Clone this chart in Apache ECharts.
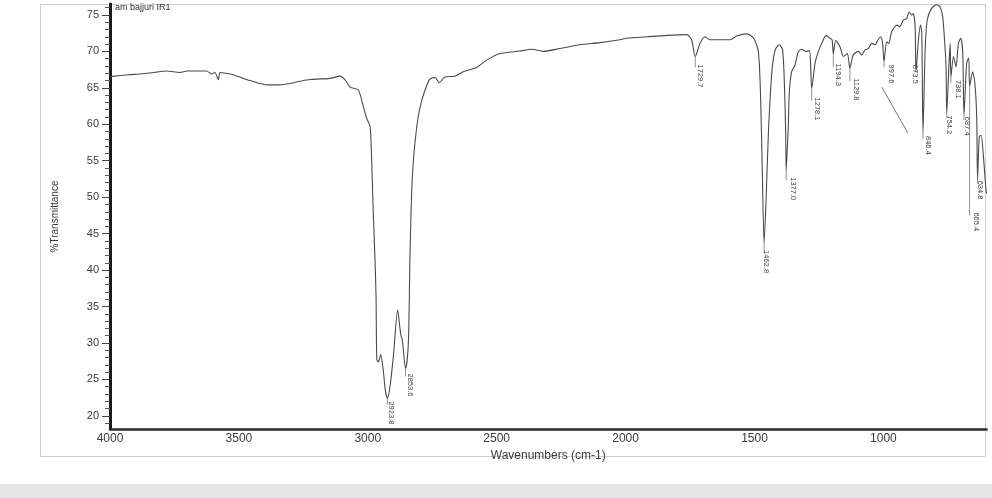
<!DOCTYPE html>
<html>
<head>
<meta charset="utf-8">
<script src="https://cdn.jsdelivr.net/npm/echarts@6/dist/echarts.min.js"></script>
<style>
html,body{margin:0;padding:0;background:#fff;}
#c{width:992px;height:498px;}
</style>
</head>
<body>
<div id="c"></div>
<script>
// Spectrum (wavenumber cm-1, %T)
const wavenumbers = [4000,3981,3930,3884,3830,3780,3728,3702,3660,3625,3606,3593,3580,3573,3550,3522,3490,3457,3420,3392,3341,3300,3263,3230,3198,3147,3108,3088,3069,3037,3017,3004,2991,2985,2979,2972,2968,2965,2959,2950,2940,2932,2923.8,2914,2901,2884,2872,2866,2853.6,2846,2841,2837,2834,2830,2823,2810,2797,2778,2759,2739,2723,2701,2662,2630,2578,2539,2487,2410,2364,2319,2254,2177,2099,2022,1996,1918,1840,1763,1744,1729.7,1711,1692,1673,1630,1595,1569,1530,1505,1485,1476,1470,1462.8,1455,1446,1433,1420,1404,1391,1384,1379,1377.0,1369,1365,1356,1343,1330,1317,1300,1287,1282,1278.1,1265,1252,1239,1222,1207,1199,1194.3,1185,1168,1155,1140,1129.8,1117,1097,1084,1071,1058,1045,1033,1020,1011,1003,997.6,987,979,968,948,936,923,910,900,890,884,877,873.5,864,856,851,846.4,838,830,813,793,780,770,761,757,754.2,746,741,738.1,728,718,709,700,692,687.4,677,669,665.4,654,645,638,634.8,628,621,612,602,600];
const transmittance = [66.5,66.6,66.8,66.9,67.1,67.3,67.1,67.3,67.3,67.3,66.9,67.1,66.1,67.1,67.0,66.8,66.4,66.0,65.6,65.4,65.4,65.6,65.9,66.1,66.2,66.3,66.6,66.1,65.1,64.7,62.4,60.8,59.7,55.1,48.2,41.4,36.4,27.7,27.4,28.4,26.3,23.5,22.4,24.0,28.1,34.5,31.1,30.4,26.5,28.1,31.8,40.9,45.5,50.5,55.1,59.7,62.4,64.7,66.2,66.4,65.7,66.5,66.6,67.2,67.8,68.8,69.7,70.05,70.3,70.0,70.4,70.9,71.2,71.6,71.8,72.0,72.2,72.3,71.6,69.3,71.1,72.0,71.6,71.6,71.6,72.1,72.4,71.9,70.0,63.3,54.2,43.7,49.6,58.8,67.0,70.2,70.9,70.2,65.6,58.8,53.7,59.7,64.3,67.2,68.1,69.96,70.3,70.0,70.1,67.9,64.9,68.4,70.0,71.1,72.2,71.8,71.6,69.7,71.5,70.6,69.3,69.7,67.7,69.5,70.0,69.5,70.2,70.4,71.1,70.9,71.6,72.0,71.1,68.6,71.3,71.1,72.7,73.6,73.4,74.3,74.5,75.4,75.0,75.2,73.4,67.2,71.6,73.6,72.5,58.8,70.2,74.3,75.9,76.4,76.1,74.8,70.6,67.9,61.5,67.9,71.1,66.5,69.3,67.9,71.1,71.8,69.7,61.3,68.4,69.1,65.2,67.2,65.6,61.0,52.4,58.3,58.5,55.6,51.0,50.5];

// Labelled peaks
const peakWn = [2923.8,2853.6,1729.7,1462.8,1377.0,1278.1,1194.3,1129.8,997.6,873.5,846.4,754.2,738.1,687.4,665.4,634.8];
const peakT  = [22.4,26.5,69.3,43.7,53.7,64.9,69.7,67.7,68.6,67.2,58.8,61.5,66.5,61.3,65.2,52.4];

// Stray pen stroke on the scan (wavenumber, %T)
const strayWn = [1006, 905];
const strayT  = [65.1, 58.8];

// Axis ticks
const xTickLabels = [4000,3500,3000,2500,2000,1500,1000];
const yMajorTicks = [20,25,30,35,40,45,50,55,60,65,70,75];
const yMinorTicks = [19,21,22,23,24,26,27,28,29,31,32,33,34,36,37,38,39,41,42,43,44,46,47,48,49,51,52,53,54,56,57,58,59,61,62,63,64,66,67,68,69,71,72,73,74,76];

// label layout (pixels) — style only
const labelDx   = [3.6,4.5,4.7,2,7,5,5,6,7,-1,5,2.5,7,3,6,3];
const labelDrop = [3,5,8,7,7,9,10,10,3,-7,3,2,3,2,126,1];

const FONT = '"Liberation Sans", Arial, sans-serif';
const spectrum = wavenumbers.map((w,i)=>[w, transmittance[i]]);
const peaks = peakWn.map((w,i)=>[w, peakT[i], i]);
const stray = strayWn.map((w,i)=>[w, strayT[i]]);

const chart = echarts.init(document.getElementById('c'), null, {renderer:'canvas'});
chart.setOption({
  animation:false,
  backgroundColor:'#ffffff',
  graphic:[
    {type:'rect', shape:{x:0,y:484,width:992,height:14}, style:{fill:'#e6e6e6'}, z:-10},
    {type:'rect', shape:{x:40.5,y:4.5,width:945,height:452}, style:{fill:'none', stroke:'#cfcfcf', lineWidth:1}, z:-5},
    {type:'text', x:115, y:3, style:{text:'am bajjuri IR1', fontSize:9, fontFamily:FONT, fill:'#333'}}
  ],
  grid:{left:110, top:4, right:5.5, bottom:69, containLabel:false},
  xAxis:{
    type:'value', inverse:true, min:600, max:4000,
    name:'Wavenumbers (cm-1)', nameLocation:'middle', nameGap:16,
    nameTextStyle:{fontSize:12, fontFamily:FONT, color:'#3a3a3a'},
    axisLine:{show:true, onZero:false, lineStyle:{color:'#2a2a2a', width:2.5}},
    axisTick:{show:false},
    axisLabel:{customValues:xTickLabels, formatter:function(v){return String(v);},
      fontSize:12, fontFamily:FONT, color:'#3a3a3a', margin:4},
    splitLine:{show:false}
  },
  yAxis:[{
    type:'value', min:18.2, max:76.5, position:'left', offset:0,
    name:'%Transmittance', nameLocation:'middle', nameGap:50,
    nameTextStyle:{fontSize:10, fontFamily:FONT, color:'#3a3a3a'},
    axisLine:{show:true, onZero:false, lineStyle:{color:'#1a1a1a', width:3}},
    axisTick:{show:true, customValues:yMajorTicks, length:8, lineStyle:{color:'#444', width:1}},
    axisLabel:{customValues:yMajorTicks, formatter:function(v){return String(v);},
      fontSize:11, fontFamily:FONT, color:'#3a3a3a', margin:11},
    splitLine:{show:false}
  },{
    type:'value', min:18.2, max:76.5, position:'left', offset:0,
    axisLine:{show:false},
    axisTick:{show:true, customValues:yMinorTicks, length:5, lineStyle:{color:'#555', width:1}},
    axisLabel:{show:false},
    splitLine:{show:false}
  }],
  series:[
    {
      type:'line', data:spectrum, showSymbol:false, smooth:0.25,
      lineStyle:{color:'#4a4a4a', width:1.1}, z:3
    },
    {
      type:'line', data:stray, showSymbol:false,
      lineStyle:{color:'#777', width:1}, z:2
    },
    {
      type:'custom', data:peaks, clip:false, z:4,
      renderItem:function(params, api){
        const i = api.value(2);
        const p = api.coord([api.value(0), api.value(1)]);
        const dx = labelDx[i], drop = labelDrop[i];
        const children = [];
        if (drop > 0) {
          children.push({type:'line', shape:{x1:p[0], y1:p[1], x2:p[0], y2:p[1]+drop+3},
            style:{stroke:'#777', lineWidth:0.8}});
        }
        children.push({type:'text', x:p[0]+dx, y:p[1]+drop, rotation:-Math.PI/2,
          style:{text:peakWn[i].toFixed(1), fontSize:7.5, fontFamily:FONT, fill:'#444',
                 align:'left', verticalAlign:'middle'}});
        return {type:'group', children:children};
      }
    }
  ]
});
</script>
</body>
</html>
